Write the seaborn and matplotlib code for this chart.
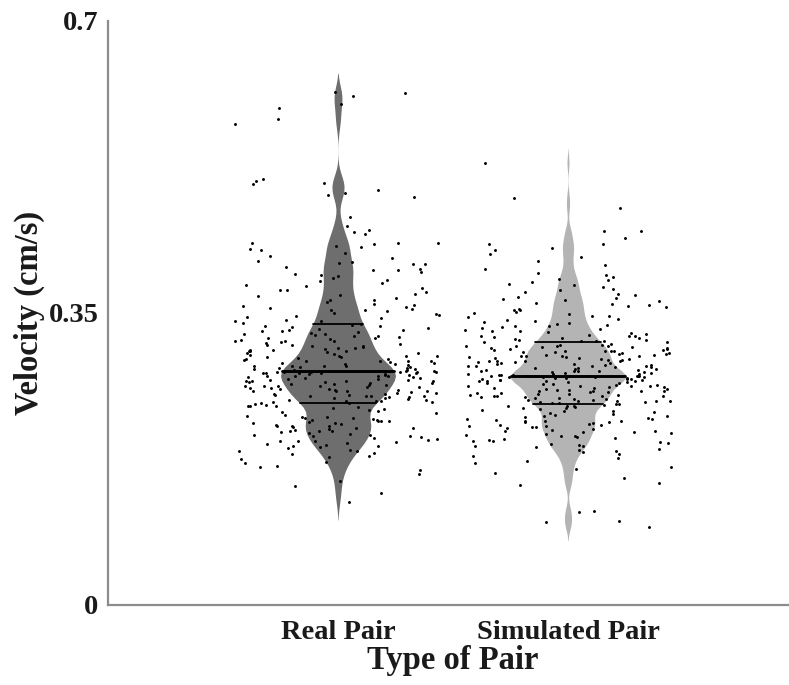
import matplotlib
matplotlib.use('Agg')
import numpy as np
import pandas as pd
import matplotlib.pyplot as plt
import seaborn as sns

# ======================
# 1. DATA
# ======================
categories = ["Real Pair", "Simulated Pair"]
fill_colors = ["#6e6e6e", "#b4b4b4"]

real_pair = [
    0.124, 0.134, 0.143, 0.149, 0.157, 0.162, 0.165, 0.167, 0.170, 0.172,
    0.175, 0.177, 0.179, 0.181, 0.182, 0.184, 0.185, 0.186, 0.188, 0.189,
    0.190, 0.191, 0.192, 0.193, 0.194, 0.195, 0.196, 0.197, 0.197, 0.198,
    0.199, 0.200, 0.201, 0.202, 0.203, 0.204, 0.204, 0.205, 0.206, 0.207,
    0.208, 0.208, 0.209, 0.210, 0.211, 0.212, 0.212, 0.213, 0.214, 0.215,
    0.215, 0.216, 0.217, 0.218, 0.218, 0.219, 0.220, 0.220, 0.221, 0.222,
    0.222, 0.223, 0.224, 0.224, 0.225, 0.225, 0.227, 0.228, 0.230, 0.231,
    0.232, 0.234, 0.235, 0.236, 0.237, 0.238, 0.239, 0.239, 0.240, 0.241,
    0.242, 0.242, 0.243, 0.243, 0.244, 0.245, 0.245, 0.246, 0.246, 0.247,
    0.248, 0.248, 0.249, 0.249, 0.250, 0.250, 0.251, 0.251, 0.252, 0.252,
    0.253, 0.253, 0.254, 0.254, 0.255, 0.256, 0.256, 0.257, 0.257, 0.258,
    0.258, 0.259, 0.259, 0.260, 0.260, 0.261, 0.261, 0.262, 0.262, 0.263,
    0.263, 0.264, 0.264, 0.265, 0.265, 0.266, 0.266, 0.267, 0.267, 0.268,
    0.268, 0.269, 0.269, 0.270, 0.270, 0.271, 0.271, 0.272, 0.272, 0.273,
    0.273, 0.274, 0.274, 0.275, 0.275, 0.276, 0.276, 0.277, 0.277, 0.278,
    0.278, 0.278, 0.278, 0.278, 0.279, 0.279, 0.279, 0.279, 0.279, 0.279,
    0.280, 0.280, 0.281, 0.281, 0.282, 0.282, 0.283, 0.283, 0.284, 0.284,
    0.285, 0.285, 0.286, 0.286, 0.287, 0.287, 0.288, 0.289, 0.289, 0.290,
    0.290, 0.291, 0.292, 0.292, 0.293, 0.293, 0.294, 0.295, 0.295, 0.296,
    0.297, 0.297, 0.298, 0.299, 0.299, 0.300, 0.301, 0.302, 0.302, 0.303,
    0.304, 0.304, 0.305, 0.306, 0.306, 0.307, 0.308, 0.308, 0.309, 0.310,
    0.311, 0.312, 0.312, 0.313, 0.314, 0.315, 0.316, 0.316, 0.317, 0.318,
    0.319, 0.320, 0.320, 0.321, 0.322, 0.323, 0.324, 0.325, 0.325, 0.326,
    0.327, 0.328, 0.329, 0.330, 0.330, 0.331, 0.332, 0.333, 0.334, 0.334,
    0.336, 0.337, 0.338, 0.340, 0.341, 0.342, 0.344, 0.345, 0.346, 0.348,
    0.349, 0.350, 0.352, 0.353, 0.354, 0.355, 0.356, 0.357, 0.358, 0.359,
    0.361, 0.363, 0.365, 0.366, 0.368, 0.370, 0.371, 0.373, 0.375, 0.377,
    0.378, 0.380, 0.382, 0.384, 0.386, 0.388, 0.390, 0.392, 0.394, 0.396,
    0.397, 0.399, 0.401, 0.402, 0.403, 0.405, 0.409, 0.409, 0.410, 0.411,
    0.412, 0.416, 0.418, 0.422, 0.425, 0.427, 0.429, 0.430, 0.433, 0.434,
    0.434, 0.434, 0.445, 0.447, 0.450, 0.454, 0.465, 0.489, 0.492, 0.494,
    0.497, 0.505, 0.506, 0.508, 0.511, 0.576, 0.583, 0.596, 0.601, 0.610,
    0.614, 0.615,
]

simulated_pair = [
    0.094, 0.100, 0.101, 0.112, 0.113, 0.144, 0.146, 0.152, 0.158, 0.163,
    0.166, 0.170, 0.173, 0.176, 0.179, 0.181, 0.183, 0.184, 0.186, 0.187,
    0.189, 0.190, 0.191, 0.192, 0.193, 0.194, 0.195, 0.196, 0.197, 0.198,
    0.199, 0.200, 0.201, 0.202, 0.203, 0.204, 0.205, 0.206, 0.207, 0.207,
    0.208, 0.209, 0.210, 0.211, 0.212, 0.213, 0.213, 0.214, 0.215, 0.216,
    0.216, 0.217, 0.218, 0.219, 0.219, 0.220, 0.221, 0.221, 0.222, 0.223,
    0.223, 0.224, 0.225, 0.226, 0.227, 0.228, 0.229, 0.230, 0.231, 0.232,
    0.233, 0.234, 0.235, 0.236, 0.236, 0.237, 0.238, 0.238, 0.239, 0.240,
    0.241, 0.241, 0.242, 0.242, 0.243, 0.243, 0.244, 0.244, 0.245, 0.245,
    0.246, 0.246, 0.247, 0.247, 0.248, 0.248, 0.249, 0.249, 0.250, 0.250,
    0.251, 0.251, 0.252, 0.252, 0.253, 0.253, 0.254, 0.254, 0.255, 0.255,
    0.256, 0.256, 0.257, 0.257, 0.258, 0.258, 0.259, 0.259, 0.260, 0.260,
    0.261, 0.261, 0.262, 0.262, 0.263, 0.263, 0.264, 0.264, 0.265, 0.265,
    0.266, 0.266, 0.267, 0.267, 0.268, 0.268, 0.269, 0.269, 0.270, 0.270,
    0.270, 0.271, 0.271, 0.271, 0.272, 0.272, 0.272, 0.273, 0.273, 0.273,
    0.273, 0.274, 0.274, 0.274, 0.274, 0.274, 0.274, 0.274, 0.274, 0.274,
    0.275, 0.275, 0.275, 0.276, 0.276, 0.276, 0.277, 0.277, 0.277, 0.278,
    0.278, 0.279, 0.279, 0.280, 0.280, 0.281, 0.281, 0.282, 0.282, 0.283,
    0.283, 0.284, 0.284, 0.285, 0.285, 0.286, 0.286, 0.287, 0.287, 0.288,
    0.288, 0.289, 0.289, 0.290, 0.290, 0.291, 0.291, 0.292, 0.292, 0.293,
    0.293, 0.294, 0.294, 0.295, 0.295, 0.296, 0.296, 0.297, 0.297, 0.298,
    0.298, 0.299, 0.299, 0.300, 0.300, 0.301, 0.301, 0.302, 0.302, 0.303,
    0.303, 0.304, 0.304, 0.305, 0.305, 0.306, 0.306, 0.307, 0.307, 0.308,
    0.308, 0.309, 0.309, 0.310, 0.310, 0.311, 0.311, 0.312, 0.312, 0.313,
    0.315, 0.315, 0.316, 0.316, 0.317, 0.318, 0.318, 0.319, 0.320, 0.320,
    0.321, 0.322, 0.323, 0.323, 0.324, 0.325, 0.326, 0.327, 0.328, 0.329,
    0.330, 0.331, 0.332, 0.333, 0.334, 0.335, 0.336, 0.337, 0.338, 0.339,
    0.341, 0.342, 0.343, 0.345, 0.346, 0.347, 0.349, 0.350, 0.351, 0.353,
    0.354, 0.355, 0.357, 0.358, 0.360, 0.361, 0.362, 0.364, 0.365, 0.367,
    0.368, 0.369, 0.371, 0.373, 0.375, 0.377, 0.379, 0.381, 0.383, 0.385,
    0.387, 0.389, 0.391, 0.393, 0.396, 0.398, 0.403, 0.408, 0.412, 0.417,
    0.421, 0.426, 0.428, 0.433, 0.433, 0.440, 0.448, 0.448, 0.476, 0.488,
    0.530,
]

ytick_values = [0, 0.35, 0.7]
ytick_labels = ["0", "0.35", "0.7"]

df = pd.DataFrame({
    "pair": [categories[0]] * len(real_pair) + [categories[1]] * len(simulated_pair),
    "velocity": real_pair + simulated_pair,
})

# ======================
# 2. STYLE
# ======================
sns.set_style("white")
plt.rcParams['font.family'] = ['Liberation Serif', 'DejaVu Serif']
plt.rcParams['font.weight'] = 'bold'
spine_gray = "#8c8c8c"
text_color = "#1a1a1a"

fig = plt.figure(figsize=(7.89, 6.85), dpi=100)
ax = fig.add_axes([108 / 789, 80 / 685, 690 / 789, 584 / 685])

# ======================
# 3. VIOLINS + POINTS
# ======================
n_before = len(ax.lines)
sns.violinplot(data=df, x="pair", y="velocity", hue="pair", order=categories,
               hue_order=categories, palette=fill_colors, saturation=1,
               inner="quart", density_norm="width", width=0.5,
               bw_adjust=0.4, linewidth=0, legend=False, ax=ax)

# quartile lines solid, median thicker
quart_lines = ax.lines[n_before:]
for i, ln in enumerate(quart_lines):
    ln.set_linestyle('-')
    ln.set_color('black')
    ln.set_linewidth(2.1 if i % 3 == 1 else 1.3)

np.random.seed(3)
sns.stripplot(data=df, x="pair", y="velocity", order=categories,
              color="black", size=2.1, jitter=0.45, linewidth=0, ax=ax)

# ======================
# 4. AXES
# ======================
ax.set_xlim(-1, 2)
ax.set_ylim(0, 0.7)
ax.set_yticks(ytick_values)
ax.set_yticklabels(ytick_labels)

for side in ["top", "right"]:
    ax.spines[side].set_visible(False)
for side in ["left", "bottom"]:
    ax.spines[side].set_color(spine_gray)
    ax.spines[side].set_linewidth(1.6)

ax.tick_params(axis='both', direction='in', length=5, width=1.4,
               color=spine_gray, labelsize=20.5, labelcolor=text_color)
ax.tick_params(axis='y', pad=7)
ax.tick_params(axis='x', pad=11)

ax.set_xlabel("Type of Pair", fontsize=23.5, fontweight='bold', color=text_color)
ax.set_ylabel("Velocity (cm/s)", fontsize=23.5, fontweight='bold', color=text_color)
ax.xaxis.set_label_coords(0.5, -0.069)
ax.yaxis.set_label_coords(-0.091, 0.5)

plt.savefig("out.png", dpi=100)
plt.close()
print("saved out.png")
